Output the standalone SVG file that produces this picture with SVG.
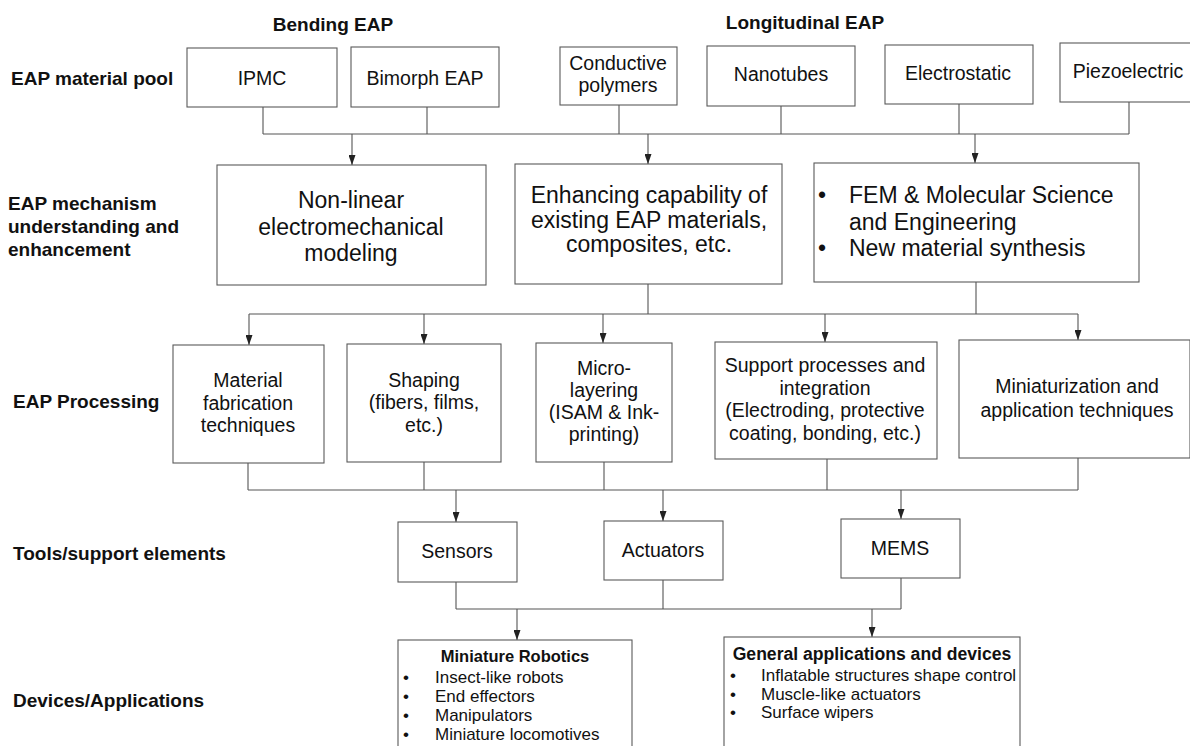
<svg xmlns="http://www.w3.org/2000/svg" width="1190" height="746" viewBox="0 0 1190 746">
  <style>
    .box { fill: #ffffff; stroke: #5a5a5a; stroke-width: 1.1; }
    .wire { fill: none; stroke: #555555; stroke-width: 1.1; }
    .lbl { font-family: "Liberation Sans", Arial, sans-serif; font-weight: bold; font-size: 19px; fill: #111111; }
    .t19 { font-family: "Liberation Sans", Arial, sans-serif; font-size: 19.5px; fill: #111111; text-anchor: middle; }
    .t23 { font-family: "Liberation Sans", Arial, sans-serif; font-size: 23px; fill: #111111; text-anchor: middle; }
    .b23 { font-family: "Liberation Sans", Arial, sans-serif; font-size: 23px; fill: #111111; }
    .item { font-family: "Liberation Sans", Arial, sans-serif; font-size: 17px; fill: #111111; }
    .head { font-family: "Liberation Sans", Arial, sans-serif; font-weight: bold; font-size: 16.5px; fill: #111111; text-anchor: middle; }
  </style>
  <defs>
    <marker id="arrow" markerUnits="userSpaceOnUse" markerWidth="10" markerHeight="7" refX="10" refY="3.5" orient="auto">
      <path d="M0,0 L10,3.5 L0,7 z" fill="#222222"/>
    </marker>
  </defs>

  <!-- row labels -->
  <g id="row-labels">
    <text class="lbl" x="333" y="31" text-anchor="middle">Bending EAP</text>
    <text class="lbl" x="805" y="29" text-anchor="middle">Longitudinal EAP</text>
    <text class="lbl" x="11" y="85">EAP material pool</text>
    <text class="lbl" x="8" y="210">EAP mechanism</text>
    <text class="lbl" x="8" y="233">understanding and</text>
    <text class="lbl" x="8" y="256">enhancement</text>
    <text class="lbl" x="13" y="408">EAP Processing</text>
    <text class="lbl" x="13" y="560">Tools/support elements</text>
    <text class="lbl" x="13" y="707">Devices/Applications</text>
  </g>

  <!-- connectors -->
  <g id="connectors">
    <!-- material pool to mechanism -->
    <path class="wire" d="M263,107 V134 M427,107 V134 M619,105 V134 M781,106 V134 M959,104 V134 M1129,102 V134 M263,134 H1129"/>
    <line class="wire" x1="352" y1="134" x2="352" y2="165" marker-end="url(#arrow)"/>
    <line class="wire" x1="648" y1="134" x2="648" y2="164" marker-end="url(#arrow)"/>
    <line class="wire" x1="975" y1="134" x2="975" y2="163" marker-end="url(#arrow)"/>
    <!-- mechanism to processing -->
    <path class="wire" d="M648,284 V314 M976,282 V314 M249,314 H1078"/>
    <line class="wire" x1="249" y1="314" x2="249" y2="345" marker-end="url(#arrow)"/>
    <line class="wire" x1="424" y1="314" x2="424" y2="344" marker-end="url(#arrow)"/>
    <line class="wire" x1="603" y1="314" x2="603" y2="343" marker-end="url(#arrow)"/>
    <line class="wire" x1="825" y1="314" x2="825" y2="342" marker-end="url(#arrow)"/>
    <line class="wire" x1="1078" y1="314" x2="1078" y2="340" marker-end="url(#arrow)"/>
    <!-- processing to tools -->
    <path class="wire" d="M248,463 V490 M424,462 V490 M604,462 V490 M827,459 V490 M1078,458 V490 M248,490 H1078"/>
    <line class="wire" x1="456" y1="490" x2="456" y2="522" marker-end="url(#arrow)"/>
    <line class="wire" x1="663" y1="490" x2="663" y2="521" marker-end="url(#arrow)"/>
    <line class="wire" x1="901" y1="490" x2="901" y2="519" marker-end="url(#arrow)"/>
    <!-- tools to applications -->
    <path class="wire" d="M456,582 V609 M663,580 V609 M901,578 V609 M456,609 H901"/>
    <line class="wire" x1="517" y1="609" x2="517" y2="640" marker-end="url(#arrow)"/>
    <line class="wire" x1="872" y1="609" x2="872" y2="637" marker-end="url(#arrow)"/>
  </g>

  <!-- EAP material pool -->
  <g id="ipmc">
    <rect class="box" x="187" y="48" width="150" height="59"/>
    <text class="t19" x="262" y="85">IPMC</text>
  </g>
  <g id="bimorph">
    <rect class="box" x="351" y="47" width="148" height="60"/>
    <text class="t19" x="425" y="85">Bimorph EAP</text>
  </g>
  <g id="conductive-polymers">
    <rect class="box" x="560" y="47" width="117" height="58"/>
    <text class="t19" x="618" y="70">Conductive</text>
    <text class="t19" x="618" y="92">polymers</text>
  </g>
  <g id="nanotubes">
    <rect class="box" x="707" y="46" width="148" height="60"/>
    <text class="t19" x="781" y="81">Nanotubes</text>
  </g>
  <g id="electrostatic">
    <rect class="box" x="885" y="45" width="148" height="59"/>
    <text class="t19" x="958" y="80">Electrostatic</text>
  </g>
  <g id="piezoelectric">
    <rect class="box" x="1060" y="43" width="140" height="59"/>
    <text class="t19" x="1128" y="78">Piezoelectric</text>
  </g>

  <!-- mechanism understanding -->
  <g id="nonlinear-modeling">
    <rect class="box" x="217" y="165" width="269" height="120"/>
    <text class="t23" x="351" y="208">Non-linear</text>
    <text class="t23" x="351" y="235">electromechanical</text>
    <text class="t23" x="351" y="261">modeling</text>
  </g>
  <g id="enhancing-capability">
    <rect class="box" x="515" y="164" width="267" height="120"/>
    <text class="t23" x="649" y="203">Enhancing capability of</text>
    <text class="t23" x="649" y="228">existing EAP materials,</text>
    <text class="t23" x="649" y="252">composites, etc.</text>
  </g>
  <g id="fem-synthesis">
    <rect class="box" x="814" y="163" width="325" height="119"/>
    <text class="b23" x="818" y="203">•</text>
    <text class="b23" x="849" y="203">FEM &amp; Molecular Science</text>
    <text class="b23" x="849" y="230">and Engineering</text>
    <text class="b23" x="818" y="256">•</text>
    <text class="b23" x="849" y="256">New material synthesis</text>
  </g>

  <!-- processing -->
  <g id="material-fabrication">
    <rect class="box" x="173" y="345" width="151" height="118"/>
    <text class="t19" x="248" y="387">Material</text>
    <text class="t19" x="248" y="410">fabrication</text>
    <text class="t19" x="248" y="432">techniques</text>
  </g>
  <g id="shaping">
    <rect class="box" x="347" y="344" width="154" height="118"/>
    <text class="t19" x="424" y="387">Shaping</text>
    <text class="t19" x="424" y="409">(fibers, films,</text>
    <text class="t19" x="424" y="432">etc.)</text>
  </g>
  <g id="micro-layering">
    <rect class="box" x="536" y="343" width="136" height="119"/>
    <text class="t19" x="604" y="375">Micro-</text>
    <text class="t19" x="604" y="397">layering</text>
    <text class="t19" x="604" y="419">(ISAM &amp; Ink-</text>
    <text class="t19" x="604" y="441">printing)</text>
  </g>
  <g id="support-processes">
    <rect class="box" x="715" y="342" width="222" height="117"/>
    <text class="t19" x="825" y="372">Support processes and</text>
    <text class="t19" x="825" y="395">integration</text>
    <text class="t19" x="825" y="417">(Electroding, protective</text>
    <text class="t19" x="825" y="440">coating, bonding, etc.)</text>
  </g>
  <g id="miniaturization">
    <rect class="box" x="959" y="340" width="231" height="118"/>
    <text class="t19" x="1077" y="393">Miniaturization and</text>
    <text class="t19" x="1077" y="417">application techniques</text>
  </g>

  <!-- tools / support elements -->
  <g id="sensors">
    <rect class="box" x="398" y="522" width="119" height="60"/>
    <text class="t19" x="457" y="558">Sensors</text>
  </g>
  <g id="actuators">
    <rect class="box" x="604" y="521" width="119" height="59"/>
    <text class="t19" x="663" y="557">Actuators</text>
  </g>
  <g id="mems">
    <rect class="box" x="841" y="519" width="119" height="59"/>
    <text class="t19" x="900" y="555">MEMS</text>
  </g>

  <!-- devices / applications -->
  <g id="miniature-robotics">
    <rect class="box" x="398" y="640" width="234" height="115"/>
    <text class="head" x="515" y="662">Miniature Robotics</text>
    <text class="item" x="403" y="683">•</text>
    <text class="item" x="435" y="683">Insect-like robots</text>
    <text class="item" x="403" y="702">•</text>
    <text class="item" x="435" y="702">End effectors</text>
    <text class="item" x="403" y="721">•</text>
    <text class="item" x="435" y="721">Manipulators</text>
    <text class="item" x="403" y="740">•</text>
    <text class="item" x="435" y="740">Miniature locomotives</text>
  </g>
  <g id="general-applications">
    <rect class="box" x="724" y="637" width="296" height="118"/>
    <text class="head" x="872" y="660" style="font-size:17.6px">General applications and devices</text>
    <text class="item" x="730" y="681">•</text>
    <text class="item" x="761" y="681">Inflatable structures shape control</text>
    <text class="item" x="730" y="700">•</text>
    <text class="item" x="761" y="700">Muscle-like actuators</text>
    <text class="item" x="730" y="718">•</text>
    <text class="item" x="761" y="718">Surface wipers</text>
  </g>
</svg>
